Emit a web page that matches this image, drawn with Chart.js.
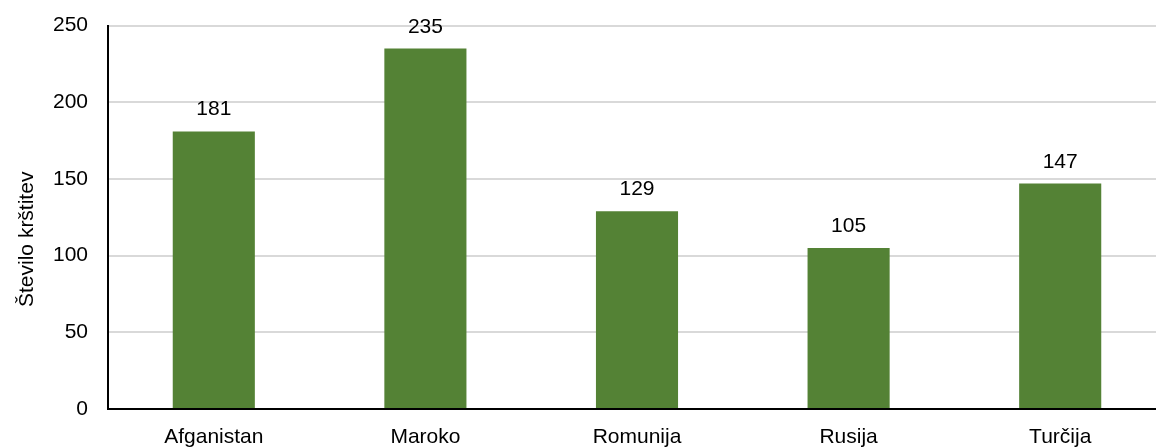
<!DOCTYPE html>
<html>
<head>
<meta charset="utf-8">
<script src="https://cdn.jsdelivr.net/npm/chart.js@4/dist/chart.umd.min.js"></script>
<style>
  html, body { margin: 0; padding: 0; background: #fff; overflow: hidden; }
  #wrap { width: 1156px; height: 448px; overflow: hidden; position: relative; }
  #box { position: absolute; left: 0; top: -7px; width: 1180px; height: 455px; }
</style>
</head>
<body>
<div id="wrap"><div id="box"><canvas id="c"></canvas></div></div>
<script>
const countries = ['Afganistan', 'Maroko', 'Romunija', 'Rusija', 'Turčija'];
const baptisms = [181, 235, 129, 105, 147];
const yTicks = [0, 50, 100, 150, 200, 250];
const yTitle = 'Število krštitev';

const FONT = '"Liberation Sans", Arial, sans-serif';
const SIZE = 21;

// Writes each bar's value just above it
const valueLabels = {
  id: 'valueLabels',
  afterDatasetsDraw(chart) {
    const ctx = chart.ctx;
    const meta = chart.getDatasetMeta(0);
    ctx.save();
    ctx.font = SIZE + 'px ' + FONT;
    ctx.fillStyle = '#000';
    ctx.textAlign = 'center';
    ctx.textBaseline = 'alphabetic';
    meta.data.forEach((bar, i) => {
      ctx.fillText(String(baptisms[i]), bar.x, bar.y - 16);
    });
    ctx.restore();
  }
};

// Vertical axis title, set a little below the middle of the plot
const axisTitle = {
  id: 'axisTitle',
  afterDraw(chart) {
    const ctx = chart.ctx;
    const area = chart.chartArea;
    ctx.save();
    ctx.font = SIZE + 'px ' + FONT;
    ctx.fillStyle = '#000';
    ctx.textAlign = 'center';
    ctx.textBaseline = 'alphabetic';
    ctx.translate(33, (area.top + area.bottom) / 2 + 22);
    ctx.rotate(-Math.PI / 2);
    ctx.fillText(yTitle, 0, 0);
    ctx.restore();
  }
};

new Chart(document.getElementById('c'), {
  type: 'bar',
  data: {
    labels: countries,
    datasets: [{
      data: baptisms,
      backgroundColor: '#548235',
      borderWidth: 0,
      barPercentage: 1,
      categoryPercentage: 0.388
    }]
  },
  options: {
    responsive: true,
    maintainAspectRatio: false,
    animation: false,
    layout: { padding: { top: 0, right: 14, left: 0, bottom: 0 } },
    plugins: { legend: { display: false }, tooltip: { enabled: false } },
    scales: {
      x: {
        grid: { display: false, drawTicks: false },
        border: { display: true, color: '#000', width: 2 },
        ticks: { color: '#000', font: { family: FONT, size: SIZE }, padding: 16, maxRotation: 0 },
        afterFit(scale) { scale.height = 39; }
      },
      y: {
        min: 0,
        max: 250,
        afterBuildTicks(axis) { axis.ticks = yTicks.map(v => ({ value: v })); },
        grid: { color: '#d9d9d9', lineWidth: 2, drawTicks: false },
        border: { display: true, color: '#000', width: 2 },
        ticks: { color: '#000', font: { family: FONT, size: SIZE }, padding: 20 },
        afterFit(scale) { scale.width = 108; }
      }
    }
  },
  plugins: [valueLabels, axisTitle]
});
</script>
</body>
</html>
